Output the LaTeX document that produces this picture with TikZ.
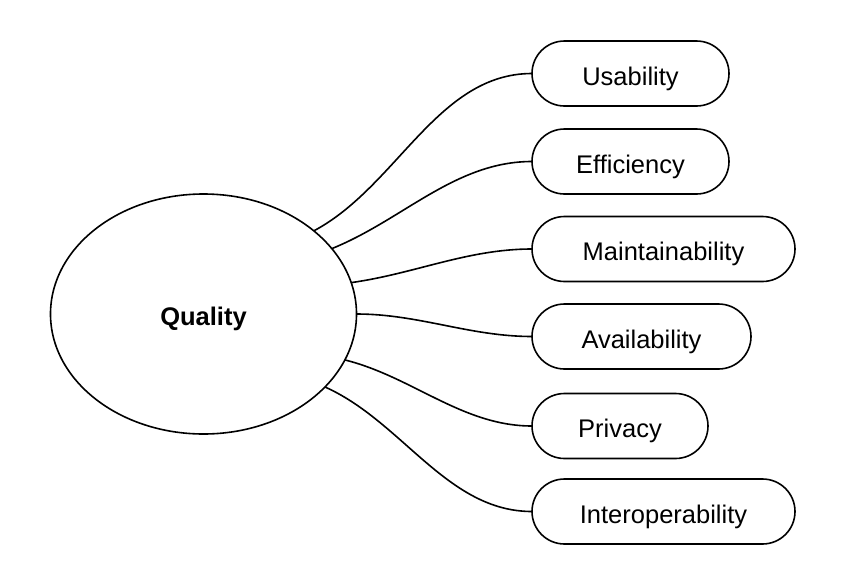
\documentclass[tikz,border=0pt]{standalone}
\usepackage{fontspec}
\setmainfont{Liberation Sans}
\usetikzlibrary{shapes.geometric,shapes.misc}
\begin{document}
\begin{tikzpicture}[x=1pt,y=1pt,
  attr/.style={draw=black, line width=1.6pt, rounded rectangle, minimum height=65pt, inner sep=0pt, outer sep=0pt, anchor=west, text height=23pt, text depth=0pt, font=\fontsize{25.5}{29}\selectfont},
  link/.style={draw=black, line width=1.6pt, in=180, looseness=0.9}]
\useasboundingbox (0,0) rectangle (843,-581);
\node[draw=black, line width=1.6pt, ellipse, minimum width=306pt, minimum height=240pt, inner sep=0pt, outer sep=0pt, text height=23pt, text depth=0pt, font=\fontsize{25.5}{29}\selectfont\bfseries] (q) at (203.5,-314) {Quality};
\node[attr, minimum width=197pt] (u) at (532,-73.5) {Usability};
\node[attr, minimum width=197pt] (e) at (532,-161.5) {Efficiency};
\node[attr, minimum width=263pt] (m) at (532,-249) {Maintainability};
\node[attr, minimum width=219pt] (a) at (532,-336.5) {Availability};
\node[attr, minimum width=176pt] (p) at (532,-426) {Privacy};
\node[attr, minimum width=263pt] (i) at (532,-511.5) {Interoperability};
\draw[link] (q.37.7) to[out=28] (u.west);
\draw[link] (q.27.8) to[out=22] (e.west);
\draw[link] (q.12.9) to[out=8] (m.west);
\draw[link] (q.0) to[out=0] (a.west);
\draw[link] (q.-18.8) to[out=-14] (p.west);
\draw[link] (q.-31.8) to[out=-24] (i.west);
\end{tikzpicture}
\end{document}
